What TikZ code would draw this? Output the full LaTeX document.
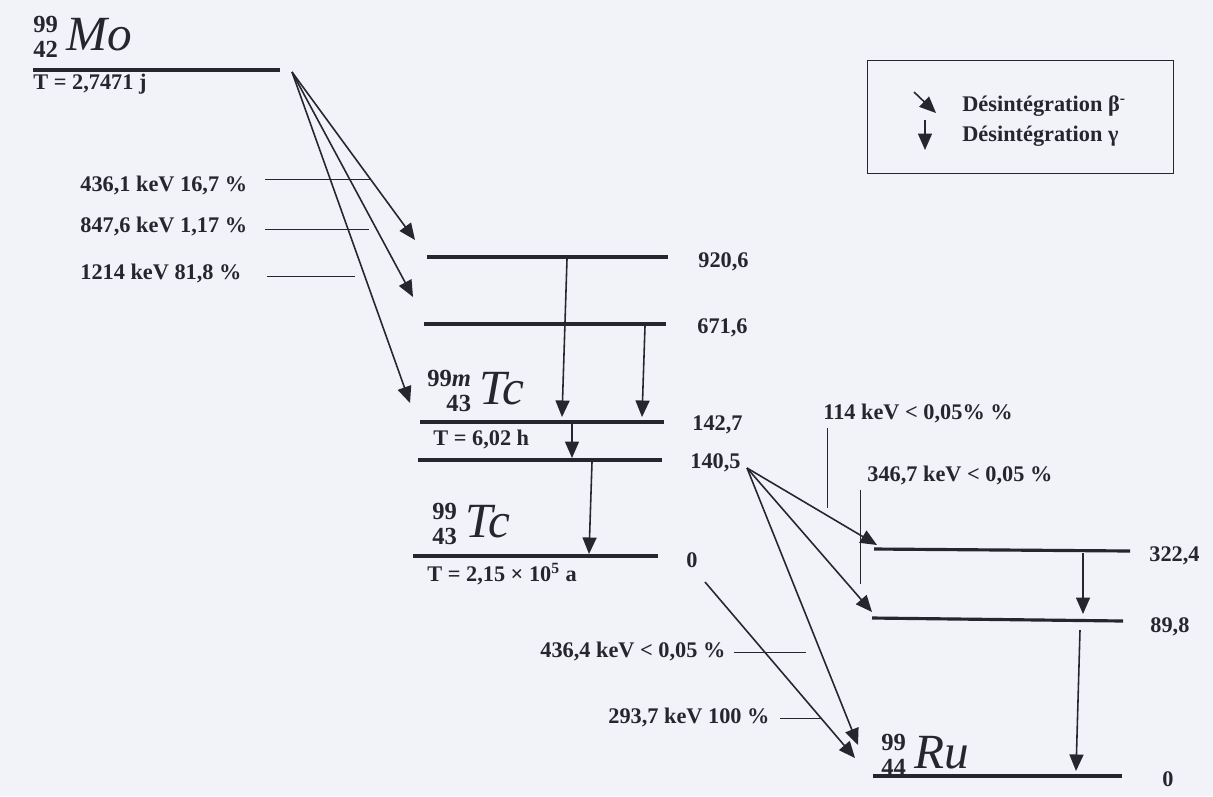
\documentclass[tikz,border=0pt]{standalone}
\usepackage{fontspec}
\setmainfont{Liberation Serif}
\usetikzlibrary{arrows.meta}
\definecolor{paper}{RGB}{241,243,248}
\definecolor{ink}{RGB}{38,38,46}
\newcommand{\nuclide}[3]{%
  \raisebox{-4pt}{\fontsize{14}{14}\selectfont\bfseries\begin{tabular}[b]{@{}r@{}}#1\\#2\end{tabular}}%
  \kern5pt{\fontsize{28}{28}\selectfont\itshape #3}}

\begin{document}
\begin{tikzpicture}[
    x=0.02cm, y=-0.02cm,
    every node/.style={text=ink, inner sep=0pt},
    lbl/.style={anchor=west, font=\fontsize{12.7}{14}\selectfont\bfseries},
    level/.style={draw=ink, line width=1.8pt},
    decay/.style={draw=ink, line width=0.9pt, -{Triangle[length=3.3mm, width=2.8mm]}},
    pointer/.style={draw=ink, line width=0.5pt}
  ]
  \fill[paper] (0,0) rectangle (1213,796);
  \useasboundingbox (0,0) rectangle (1213,796);

  \coordinate (mo-l) at (33,70);     \coordinate (mo-r) at (280,70);
  \coordinate (e920-l) at (427,257); \coordinate (e920-r) at (668,257);
  \coordinate (e671-l) at (424,324); \coordinate (e671-r) at (666,324);
  \coordinate (e142-l) at (420,422); \coordinate (e142-r) at (664,422);
  \coordinate (e140-l) at (418,460); \coordinate (e140-r) at (662,460);
  \coordinate (tc-l) at (413,556);   \coordinate (tc-r) at (658,556);
  \coordinate (e322-l) at (874,549); \coordinate (e322-r) at (1130,551);
  \coordinate (e89-l) at (872,618);  \coordinate (e89-r) at (1123,621);
  \coordinate (ru-l) at (873,776);   \coordinate (ru-r) at (1122,776);
  \foreach \lv in {mo,e920,e671,e142,e140,tc,e322,e89,ru}
    \draw[level] (\lv-l) -- (\lv-r);

  \node[lbl] (v920) at (698,262) {920,6};
  \node[lbl] (v671) at (697,328) {671,6};
  \node[lbl] (v142) at (692,425) {142,7};
  \node[lbl] (v140) at (690,463) {140,5};
  \node[lbl] (vtc) at (686,560) {0};
  \node[lbl] (v322) at (1149,556) {322,4};
  \node[lbl] (v89) at (1150,627) {89,8};
  \node[lbl] (vru) at (1162,779) {0};

  \node[anchor=base west] (mo) at (33,50) {\nuclide{99}{42}{Mo}};
  \node[anchor=base west] (tcm) at (427,404) {\nuclide{99\textit{m}}{43}{Tc}};
  \node[anchor=base west] (tc) at (432,537) {\nuclide{99}{43}{Tc}};
  \node[anchor=base west] (ru) at (881,768) {\nuclide{99}{44}{Ru}};

  \node[lbl] (tmo) at (33,84) {T = 2,7471 j};
  \node[lbl] (ttcm) at (433,439) {T = 6,02 h};
  \node[lbl] (ttc) at (427,574) {T = 2,15 × 10\textsuperscript{5} a};

  \coordinate (mo-s) at (292,72);
  \coordinate (b920) at (415,240);
  \coordinate (b671) at (413,297);
  \coordinate (b142) at (410,403);
  \draw[decay] (mo-s) -- coordinate[pos=0.637] (x436) (b920);
  \draw[decay] (mo-s) -- coordinate[pos=0.698] (x847) (b671);
  \draw[decay] (mo-s) -- coordinate[pos=0.619] (x1214) (b142);

  \coordinate (tcm-s) at (747,468);
  \coordinate (b322) at (877,545);
  \coordinate (b89) at (872,612);
  \coordinate (bru) at (858,745);
  \draw[decay] (tcm-s) -- coordinate[pos=0.615] (x114) (b322);
  \draw[decay] (tcm-s) -- coordinate[pos=0.904] (x346) (b89);
  \draw[decay] (tcm-s) -- coordinate[pos=0.664] (x4364) (bru);
  \coordinate (tc-s) at (705,582);
  \coordinate (bru2) at (855,758);
  \draw[decay] (tc-s) -- coordinate[pos=0.773] (x293) (bru2);

  \coordinate (g1a) at (567,259);  \coordinate (g1b) at (562,417);
  \coordinate (g2a) at (645,326);  \coordinate (g2b) at (642,417);
  \coordinate (g3a) at (572,424);  \coordinate (g3b) at (572,458);
  \coordinate (g4a) at (592,462);  \coordinate (g4b) at (589,554);
  \coordinate (g5a) at (1083,553); \coordinate (g5b) at (1083,614);
  \coordinate (g6a) at (1080,630); \coordinate (g6b) at (1076,771);
  \foreach \g in {g1,g2,g3,g4,g5,g6}
    \draw[decay] (\g a) -- (\g b);

  \node[lbl] (k436) at (80,185) {436,1 keV 16,7 \%};
  \node[lbl] (k847) at (80,226) {847,6 keV 1,17 \%};
  \node[lbl] (k1214) at (80,273) {1214 keV 81,8 \%};
  \draw[pointer] (x436 -| k436.east) ++(18,0) -- (x436);
  \draw[pointer] (x847 -| k847.east) ++(18,0) -- ([xshift=-0.15cm]x847);
  \draw[pointer] (x1214 -| k1214.east) ++(25,0) -- ([xshift=-0.2cm]x1214);

  \node[lbl] (k114) at (823,413) {114 keV < 0,05\% \%};
  \node[lbl] (k346) at (867,475) {346,7 keV < 0,05 \%};
  \node[lbl] (k4364) at (540,651) {436,4 keV < 0,05 \%};
  \node[lbl] (k293) at (608,717) {293,7 keV 100 \%};
  \draw[pointer] (x114 |- k114.south) ++(0,5) -- ([yshift=4pt]x114);
  \draw[pointer] (x346 |- k346.south) ++(0,5) -- ([yshift=8pt]x346);
  \draw[pointer] (x4364 -| k4364.east) ++(8,0) -- ([xshift=-0.3cm]x4364);
  \draw[pointer] (x293 -| k293.east) ++(10,0) -- (x293);

  \node[draw=ink, line width=0.8pt, anchor=north west, minimum width=6.12cm, minimum height=2.26cm] (legend) at (867,60) {};
  \node[lbl] (lbeta) at (962,106) {Désintégration β\textsuperscript{-}};
  \node[lbl] (lgamma) at (962,136) {Désintégration γ};
  \coordinate (lb1) at (914,92);  \coordinate (lb2) at (936,113);
  \coordinate (lg1) at (925,120); \coordinate (lg2) at (925,150);
  \draw[decay] (lb1) -- (lb2);
  \draw[decay] (lg1) -- (lg2);
\end{tikzpicture}
\end{document}
